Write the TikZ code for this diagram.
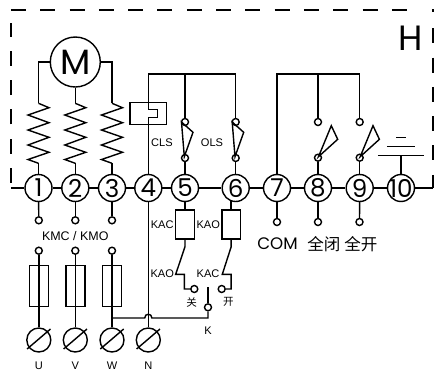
\documentclass[tikz,border=0pt]{standalone}
\usepackage{fontspec}
\setmainfont{Liberation Sans}
\newfontfamily\numfont{Poppins}
\newfontfamily\cjk{Noto Sans CJK SC}

\tikzset{
	term/.style={circle,draw,inner sep=0pt,minimum size=0.54cm,font=\numfont\fontsize{14}{14}\selectfont},
	contact/.style={circle,draw,inner sep=0pt,minimum size=0.14cm},
	screw/.style={circle,draw,inner sep=0pt,minimum size=0.48cm},
	fuse/.style={draw,inner sep=0pt,minimum width=0.38cm,minimum height=0.83cm},
	relay/.style={draw,inner sep=0pt,minimum width=0.37cm,minimum height=0.58cm},
	small/.style={inner sep=0pt,font=\fontsize{6.3}{6.3}\selectfont},
	coil/.pic={
		\coordinate (-top) at (0,0);
		\coordinate (-bot) at (0,60);
		\draw (-top) -- (10.5,4.4) -- (-10.5,11.7) -- (10.5,19.4) -- (-10.5,26.7) -- (10.5,34) -- (-10.5,41.7) -- (10.5,49) -- (-10.5,56.2) -- (-bot);
	}
}

\begin{document}
\begin{tikzpicture}[x=0.02cm,y=-0.02cm,line width=0.8pt]
	\useasboundingbox (0,0) rectangle (434,370);

	% housing
	\draw[dash pattern=on 0.3cm off 0.286cm] (11,183) -- (11,23);
	\draw[dash pattern=on 0.3cm off 0.286cm] (11,10) -- (407,10);
	\draw (432,10) -- (433,10) -- (433,12);
	\draw[dash pattern=on 0.3cm off 0.286cm] (433,28.3) -- (433,188);
	\node[inner sep=0pt,font=\numfont\fontsize{20}{20}\selectfont] (H) at (410.7,38.3) {H};

	% terminal row
	\foreach \n/\x in {1/38.5,2/75.3,3/112,4/148.3,5/185,6/235.7,7/277,8/318,9/359.7,10/401}
		\node[term] (\n) at (\x,188) {\makebox[0pt]{\n}};
	\coordinate (busL) at (11,188);
	\coordinate (busR) at (433,188);
	\draw (busL) -- (1) (1) -- (2) (2) -- (3) (3) -- (4) (4) -- (5) (5) -- (6) (6) -- (7) (7) -- (8) (8) -- (9) (9) -- (10) (10) -- (busR);

	% motor
	\node[circle,draw,inner sep=0pt,minimum size=1cm,font=\numfont\fontsize{20}{20}\selectfont] (M) at (75.3,62) {M};
	\pic (c1) at (38.5,103.3) {coil};
	\pic (c2) at (75.3,103.3) {coil};
	\pic (c3) at (112,103.3) {coil};
	\draw (M.west) -| (c1-top);
	\draw (M.south) -- (c2-top);
	\draw (M.east) -| (c3-top);
	\draw (c1-bot) -- (1);
	\draw (c2-bot) -- (2);
	\draw (c3-bot) -- (3);

	% limit switches
	\coordinate (busA) at (148.3,74);
	\coordinate (busB) at (185,74);
	\coordinate (busC) at (235.7,74);
	\node[draw,inner sep=0pt,minimum width=0.74cm,minimum height=0.43cm] (brake) at (148.3,113.5) {};
	\draw (4) -- (148.3,117.3) -- (157.3,117.3) -- (157.3,109.5) -- (148.3,109.5) -- (busA); % brake loop
	\draw (busA) -- (busB) -- (busC);
	\foreach \n/\x in {5/185,6/235.7} {
		\node[contact] (up\n) at (\x,122) {};
		\node[contact] (lo\n) at (\x,158) {};
		\draw (\n) -- (lo\n);
		\draw (\x-3.5,122) -- (\x+8,132.3) -- (\x-0.7,156.7) -- cycle; % closed blade
	}
	\draw (busB) -- (up5);
	\draw (busC) -- (up6);
	\node[small] (cls) at (162,142.7) {CLS};
	\node[small] (ols) at (212,142.7) {OLS};

	% position outputs
	\coordinate (busD) at (277,74);
	\coordinate (busE) at (318,74);
	\coordinate (busF) at (359.7,74);
	\draw (7) -- (busD) -- (busE) -- (busF);
	\foreach \n/\x in {8/318,9/359.7} {
		\node[contact] (up\n) at (\x,122) {};
		\node[contact] (lo\n) at (\x,157.7) {};
		\draw (\n) -- (lo\n);
		\draw (\x+0.5,156.7) -- (\x+13.3,125.7) -- (\x+19.7,139.3) -- cycle; % open blade
	}
	\draw (busE) -- (up8);
	\draw (busF) -- (up9);

	% capacitor
	\coordinate (capA) at (401,155.7);
	\draw (10) -- (capA);
	\draw (378,155.7) -- (423.7,155.7); % long plate
	\draw (387,146.7) -- (414.7,146.7);
	\draw (396.3,137.3) -- (405.7,137.3);

	% contactor and fuses
	\foreach \n/\x/\l in {1/38.8/U,2/75.3/V,3/112/W} {
		\node[contact] (a\n) at (\x,220.3) {};
		\node[contact] (b\n) at (\x,250.7) {};
		\node[fuse] (f\n) at (\x,286) {};
		\node[screw] (\l) at (\x,340) {};
		\draw (\n) -- (a\n);
		\draw (b\n) -- (\l);
		\draw (\l)+(-11.7,9) -- +(11.7,-11);
		\node[small] (lab\l) at (\x,366) {\l};
	}
	\node[small,font=\fontsize{7.1}{7.1}\selectfont] (kmc) at (75.3,235.7) {KMC / KMO};
	\node[screw] (N) at (148.3,340) {};
	\draw (N)+(-11.7,9) -- +(11.7,-11);
	\node[small] (labN) at (148.3,366) {N};
	\draw (4) -- (N);

	% relays
	\node[relay] (kac) at (185,224.5) {};
	\node[relay] (kao) at (231.2,224.5) {};
	\node[contact] (close) at (194.3,289) {};
	\node[contact] (open) at (221.7,289) {};
	\node[contact] (k) at (208,307.3) {};
	\coordinate (kTop) at (208,286.7);
	\coordinate (jw) at (112,318);
	\coordinate (jk) at (208,318);
	\draw (5) -- (kac);
	\draw (kao.north) -- (kao.north |- 6.-110);
	\draw (kac.south) -- (185,246.7) -- (175.7,274.3) -- (184.3,274.3) |- (close);
	\draw (kao.south) -- (231.2,246.7) -- (222.3,274.3) -- (231.2,274.3) |- (open);
	\draw (k) -- (kTop);
	\draw (jw) -- (144.7,318) .. controls (144.7,313) and (151.9,313) .. (151.9,318) -- (jk) -- (k); % hop over N
	\node[small] (kacT) at (162.2,224.3) {KAC};
	\node[small] (kaoT) at (208.3,224.3) {KAO};
	\node[small] (kaoB) at (162.2,273.3) {KAO};
	\node[small] (kacB) at (208,273.3) {KAC};
	\node[small,font=\cjk\fontsize{6}{6}\selectfont] (guan) at (191.7,302.3) {关};
	\node[small,font=\cjk\fontsize{6}{6}\selectfont] (kai) at (228.3,302.3) {开};
	\node[small] (labK) at (208,330.7) {K};

	% output labels
	\node[contact] (a7) at (277,222) {};
	\node[contact] (a8) at (318,222) {};
	\node[contact] (a9) at (359.5,222) {};
	\draw (7) -- (a7);
	\draw (8) -- (a8);
	\draw (9) -- (a9);
	\node[inner sep=0pt,font=\numfont\fontsize{9.5}{9.5}\selectfont] (com) at (277.5,244) {COM};
	\node[inner sep=0pt,font=\cjk\fontsize{9.4}{9.4}\selectfont] (allc) at (323.8,244) {全闭};
	\node[inner sep=0pt,font=\cjk\fontsize{9.4}{9.4}\selectfont] (allo) at (361,244) {全开};
\end{tikzpicture}
\end{document}
